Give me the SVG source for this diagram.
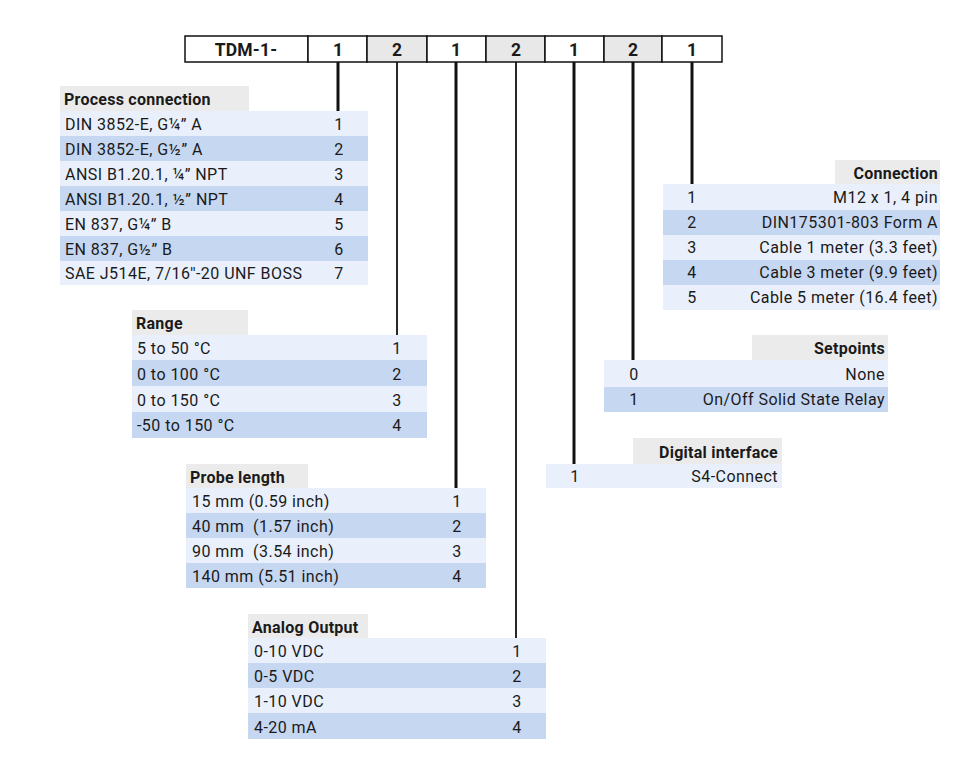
<svg xmlns="http://www.w3.org/2000/svg" width="960" height="768" viewBox="0 0 960 768">
<style>
text{font-family:Roboto,"Liberation Sans",sans-serif;font-size:16px;letter-spacing:0.45px;fill:#1a1a1a;white-space:pre}
.h{font-weight:bold;letter-spacing:0.25px}
.b{font-weight:bold;font-size:17.5px;letter-spacing:0.2px}
.c{text-anchor:middle}
.r{text-anchor:end}
.hd{fill:#ebebeb}
.lt{fill:#e9f0fb}
.dk{fill:#c6d7f2}
.cw{fill:#ffffff;stroke:#111;stroke-width:1.5}
.cg{fill:#e8e8e8;stroke:#111;stroke-width:1.5}
.k{stroke:#111;fill:none}
.t{stroke-width:3}
.n{stroke-width:1.8}
</style>
<rect width="960" height="768" fill="#ffffff"/>

<g id="code-bar">
<rect class="cw" x="185" y="36" width="123" height="26"/>
<rect class="cw" x="308" y="36" width="59" height="26"/>
<rect class="cg" x="367" y="36" width="60" height="26"/>
<rect class="cw" x="427" y="36" width="59" height="26"/>
<rect class="cg" x="486" y="36" width="59" height="26"/>
<rect class="cw" x="545" y="36" width="59" height="26"/>
<rect class="cg" x="604" y="36" width="58" height="26"/>
<rect class="cw" x="662" y="36" width="60" height="26"/>
<text class="b c" x="246" y="55.5">TDM-1-</text>
<text class="b c" x="338" y="55.5">1</text>
<text class="b c" x="397" y="55.5">2</text>
<text class="b c" x="456" y="55.5">1</text>
<text class="b c" x="516" y="55.5">2</text>
<text class="b c" x="574" y="55.5">1</text>
<text class="b c" x="633" y="55.5">2</text>
<text class="b c" x="692" y="55.5">1</text>
</g>

<g id="connectors">
<line class="k t" x1="338" y1="62" x2="338" y2="111"/>
<line class="k n" x1="397" y1="62" x2="397" y2="335"/>
<line class="k t" x1="456" y1="62" x2="456" y2="488"/>
<line class="k n" x1="516" y1="62" x2="516" y2="638"/>
<line class="k t" x1="574" y1="62" x2="574" y2="464"/>
<line class="k t" x1="633" y1="62" x2="633" y2="360"/>
<line class="k t" x1="692" y1="62" x2="692" y2="184"/>
</g>

<g id="process-connection">
<rect class="hd" x="60" y="86" width="189" height="25"/>
<text class="h" x="64" y="104.5">Process connection</text>
<rect class="lt" x="60" y="111" width="308" height="25"/>
<rect class="dk" x="60" y="136" width="308" height="25"/>
<rect class="lt" x="60" y="161" width="308" height="25"/>
<rect class="dk" x="60" y="186" width="308" height="25"/>
<rect class="lt" x="60" y="211" width="308" height="25"/>
<rect class="dk" x="60" y="236" width="308" height="25"/>
<rect class="lt" x="60" y="261" width="308" height="24"/>
<text x="65" y="129.5">DIN 3852-E, G¼” A</text>
<text x="65" y="154.5">DIN 3852-E, G½” A</text>
<text x="65" y="179.5">ANSI B1.20.1, ¼” NPT</text>
<text x="65" y="204.5">ANSI B1.20.1, ½” NPT</text>
<text x="65" y="229.5">EN 837, G¼” B</text>
<text x="65" y="254.5">EN 837, G½” B</text>
<text x="65" y="279">SAE J514E, 7/16''-20 UNF BOSS</text>
<text class="c" x="339" y="129.5">1</text>
<text class="c" x="339" y="154.5">2</text>
<text class="c" x="339" y="179.5">3</text>
<text class="c" x="339" y="204.5">4</text>
<text class="c" x="339" y="229.5">5</text>
<text class="c" x="339" y="254.5">6</text>
<text class="c" x="339" y="279">7</text>
</g>

<g id="range">
<rect class="hd" x="132" y="310" width="116" height="25"/>
<text class="h" x="136" y="329">Range</text>
<rect class="lt" x="132" y="335" width="295" height="25"/>
<rect class="dk" x="132" y="360" width="295" height="26"/>
<rect class="lt" x="132" y="386" width="295" height="26"/>
<rect class="dk" x="132" y="412" width="295" height="26"/>
<text x="137" y="354">5 to 50 °C</text>
<text x="137" y="379.5">0 to 100 °C</text>
<text x="137" y="405.5">0 to 150 °C</text>
<text x="137" y="431">-50 to 150 °C</text>
<text class="c" x="397" y="354">1</text>
<text class="c" x="397" y="379.5">2</text>
<text class="c" x="397" y="405.5">3</text>
<text class="c" x="397" y="431">4</text>
</g>

<g id="probe-length">
<rect class="hd" x="186" y="464" width="122" height="24"/>
<text class="h" x="190" y="482.5">Probe length</text>
<rect class="lt" x="186" y="488" width="300" height="25"/>
<rect class="dk" x="186" y="513" width="300" height="25"/>
<rect class="lt" x="186" y="538" width="300" height="25"/>
<rect class="dk" x="186" y="563" width="300" height="25"/>
<text x="192" y="507">15 mm (0.59 inch)</text>
<text x="192" y="532">40 mm  (1.57 inch)</text>
<text x="192" y="557">90 mm  (3.54 inch)</text>
<text x="192" y="582">140 mm (5.51 inch)</text>
<text class="c" x="457" y="507">1</text>
<text class="c" x="457" y="532">2</text>
<text class="c" x="457" y="557">3</text>
<text class="c" x="457" y="582">4</text>
</g>

<g id="analog-output">
<rect class="hd" x="248" y="614" width="120" height="24"/>
<text class="h" x="252" y="632.5">Analog Output</text>
<rect class="lt" x="248" y="638" width="298" height="25"/>
<rect class="dk" x="248" y="663" width="298" height="25"/>
<rect class="lt" x="248" y="688" width="298" height="25"/>
<rect class="dk" x="248" y="713" width="298" height="26"/>
<text x="254" y="657">0-10 VDC</text>
<text x="254" y="682">0-5 VDC</text>
<text x="254" y="707">1-10 VDC</text>
<text x="254" y="732.5">4-20 mA</text>
<text class="c" x="517" y="657">1</text>
<text class="c" x="517" y="682">2</text>
<text class="c" x="517" y="707">3</text>
<text class="c" x="517" y="732.5">4</text>
</g>

<g id="connection">
<rect class="hd" x="835" y="160" width="105" height="24"/>
<text class="h r" x="938" y="178.5">Connection</text>
<rect class="lt" x="663" y="184" width="277" height="26"/>
<rect class="dk" x="663" y="210" width="277" height="25"/>
<rect class="lt" x="663" y="235" width="277" height="25"/>
<rect class="dk" x="663" y="260" width="277" height="25"/>
<rect class="lt" x="663" y="285" width="277" height="25"/>
<text class="c" x="692" y="203">1</text>
<text class="c" x="692" y="228">2</text>
<text class="c" x="692" y="253">3</text>
<text class="c" x="692" y="278">4</text>
<text class="c" x="692" y="303">5</text>
<text class="r" x="938" y="203">M12 x 1, 4 pin</text>
<text class="r" x="938" y="228">DIN175301-803 Form A</text>
<text class="r" x="938" y="253">Cable 1 meter (3.3 feet)</text>
<text class="r" x="938" y="278">Cable 3 meter (9.9 feet)</text>
<text class="r" x="938" y="303">Cable 5 meter (16.4 feet)</text>
</g>

<g id="setpoints">
<rect class="hd" x="752" y="335" width="136" height="25"/>
<text class="h r" x="885" y="354">Setpoints</text>
<rect class="lt" x="604" y="360" width="284" height="27"/>
<rect class="dk" x="604" y="387" width="284" height="25"/>
<text class="c" x="634" y="380">0</text>
<text class="c" x="634" y="405">1</text>
<text class="r" x="885" y="380">None</text>
<text class="r" x="885" y="405">On/Off Solid State Relay</text>
</g>

<g id="digital-interface">
<rect class="hd" x="633" y="438" width="149" height="26"/>
<text class="h r" x="778" y="458">Digital interface</text>
<rect class="lt" x="546" y="464" width="236" height="24"/>
<text class="c" x="575" y="482">1</text>
<text class="r" x="778" y="482">S4-Connect</text>
</g>
</svg>
